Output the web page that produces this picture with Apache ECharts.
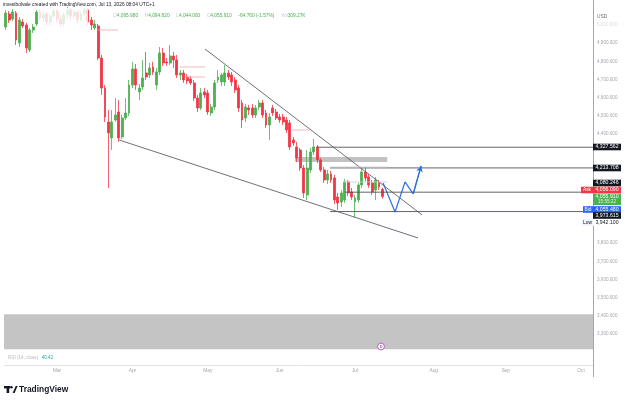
<!DOCTYPE html>
<html>
<head>
<meta charset="utf-8">
<script src="https://cdn.jsdelivr.net/npm/echarts@6/dist/echarts.min.js"></script>
<style>
  html, body { margin: 0; padding: 0; background: #fff; }
  #chart { width: 625px; height: 401px; }
</style>
</head>
<body>
<div id="chart"></div>
<script>
// daily candles, Feb 9 .. Jul 13 2026: [open, close, low, high]
const candles = [
  [4989, 5066, 4972.5, 5082.5], [5060.5, 5027.5, 5011, 5077], [5033, 5071.5, 5022, 5088],
  [5066, 4917.5, 4890, 5077], [4901, 5027.5, 4879, 5044], [5016.5, 4994.5, 4983.5, 5033],
  [5000, 4873.5, 4846, 5011], [4862.5, 4972.5, 4851.5, 4983.5], [4972.5, 4989, 4956, 5005.5],
  [5005.5, 5071.5, 4994.5, 5082.5], [5071.5, 5038.5, 5027.5, 5088], [5038.5, 5060.5, 5016.5, 5082.5],
  [5060.5, 5016.5, 5000, 5071.5], [5016.5, 5049.5, 4994.5, 5060.5], [5049.5, 5077, 5038.5, 5093.5],
  [5077, 5033, 5016.5, 5088], [5033, 5005.5, 4989, 5055], [5005.5, 5055, 4994.5, 5071.5],
  [5055, 5082.5, 5038.5, 5099], [5082.5, 5049.5, 5027.5, 5093.5], [5049.5, 5071.5, 5033, 5088],
  [5071.5, 5027.5, 5011, 5082.5], [5027.5, 5060.5, 5016.5, 5077], [5060.5, 5082.5, 5049.5, 5093.5],
  [5082.5, 5016.5, 5000, 5093.5], [5027.5, 5000, 4972.5, 5044], [4983.5, 5005.5, 4972.5, 5027.5],
  [4994.5, 4818.5, 4807.5, 5005.5], [4818.5, 4653.5, 4615, 4835], [4653.5, 4494, 4466.5, 4670],
  [4466.5, 4406, 4103.5, 4532.5], [4378.5, 4466.5, 4312.5, 4532.5], [4477.5, 4505, 4466.5, 4598],
  [4521.5, 4378.5, 4356.5, 4587.5], [4384, 4488.5, 4373, 4505], [4488.5, 4516, 4477.5, 4598],
  [4516, 4670, 4499.5, 4697.5], [4670, 4758, 4653.5, 4796.5], [4758, 4670, 4642.5, 4785.5],
  [4631.5, 4653.5, 4587.5, 4675.5], [4659, 4708.5, 4642.5, 4807.5], [4736, 4714, 4697.5, 4851.5],
  [4725, 4763.5, 4708.5, 4791], [4769, 4741.5, 4725, 4796.5], [4670, 4741.5, 4642.5, 4763.5],
  [4741.5, 4846, 4725, 4879], [4846, 4791, 4774.5, 4873.5], [4796.5, 4791, 4774.5, 4818.5],
  [4791, 4829.5, 4780, 4890], [4829.5, 4807.5, 4763.5, 4851.5], [4807.5, 4725, 4708.5, 4835],
  [4725, 4736, 4697.5, 4752.5], [4736, 4697.5, 4681, 4752.5], [4714, 4692, 4675.5, 4730.5],
  [4703, 4681, 4670, 4719.5], [4681, 4598, 4582, 4697.5], [4598, 4543.5, 4521.5, 4615],
  [4543.5, 4626, 4532.5, 4653.5], [4631.5, 4615, 4598, 4653.5], [4626, 4521.5, 4505, 4642.5],
  [4516, 4549, 4499.5, 4565.5], [4549, 4681, 4532.5, 4697.5], [4697.5, 4714, 4681, 4752.5],
  [4686.5, 4725, 4664.5, 4736], [4686.5, 4736, 4664.5, 4780], [4736, 4714, 4697.5, 4752.5],
  [4725, 4686.5, 4664.5, 4741.5], [4697.5, 4642.5, 4626, 4714], [4653.5, 4543.5, 4521.5, 4670],
  [4571, 4477.5, 4433.5, 4587.5], [4488.5, 4549, 4466.5, 4565.5], [4543.5, 4532.5, 4505, 4560],
  [4543.5, 4505, 4488.5, 4565.5], [4505, 4543.5, 4488.5, 4560], [4549, 4571, 4532.5, 4587.5],
  [4571, 4505, 4488.5, 4587.5], [4516, 4450, 4433.5, 4532.5], [4450, 4494, 4367.5, 4516],
  [4543.5, 4516, 4499.5, 4560], [4521.5, 4488.5, 4477.5, 4538], [4494, 4477.5, 4461, 4510.5],
  [4494, 4466.5, 4450, 4510.5], [4477.5, 4422.5, 4406, 4494], [4461, 4329, 4312.5, 4477.5],
  [4367.5, 4351, 4334.5, 4384], [4329, 4268.5, 4246.5, 4356.5], [4312.5, 4213.5, 4197, 4323.5],
  [4213.5, 4076, 4048.5, 4230], [4065, 4213.5, 4037.5, 4312.5], [4202.5, 4301.5, 4186, 4323.5],
  [4301.5, 4329, 4285, 4373], [4329, 4257.5, 4241, 4340], [4257.5, 4202.5, 4191.5, 4268.5],
  [4202.5, 4147.5, 4131, 4219], [4147.5, 4180.5, 4125.5, 4202.5], [4180.5, 4147.5, 4131, 4197],
  [4158.5, 4037.5, 4015.5, 4175], [4054, 4021, 3982.5, 4076], [4026.5, 4076, 3999, 4092.5],
  [4037.5, 4136.5, 4021, 4153], [4136.5, 4076, 4059.5, 4147.5], [4081.5, 4054, 4037.5, 4103.5],
  [4026.5, 4048.5, 3942.1, 4065], [4037.5, 4120, 4021, 4131], [4120, 4191.5, 4103.5, 4208],
  [4191.5, 4158.5, 4142, 4213.5], [4164, 4120, 4103.5, 4180.5], [4131, 4081.5, 4065, 4147.5],
  [4092.5, 4147.5, 4037.5, 4164], [4131, 4109, 4092.5, 4147.5], [4095.98, 4055.91, 4044.06, 4104.82]
];

const firstDay = '2026-02-09';
const barCount = 172;          // trading days shown incl. empty future space
const monthNames = ['Jan', 'Feb', 'Mar', 'Apr', 'May', 'Jun', 'Jul', 'Aug', 'Sep', 'Oct', 'Nov', 'Dec'];

// drawings, in [bar index, price]
const upperTrend = [[58.2, 4868], [121.6, 3955]];
const lowerTrend = [[33.1, 4367.5], [120.4, 3828.5]];
const forecastPath = [[110.2, 4131], [113.7, 3971.5], [116.6, 4136.5], [119.0, 4070.5], [121.3, 4224.5]];
const levelPrices = [4327.562, 4213.708, 4080.246, 3973.615];
const levelStarts = [90.9, 94.7, 99.1, 94.7];
const faintLevels = [[26.7, 32.8, 4972.5], [50.9, 58.2, 4769], [52.4, 58.2, 4714], [83.6, 88.9, 4422.5], [98.5, 111.4, 4136.5], [94.7, 111.4, 4219]];
const zoneBox = [84.5, 111.4, 4274, 4246.5];
const lowerBox = [-0.5, 171.5, 3408, 3216];

const yTicksHidden = [5100, 4300, 4200, 4100, 4000, 3900, 3200];

// weekday calendar
const dates = [];
{
  const d = new Date(firstDay + 'T00:00:00Z');
  while (dates.length < barCount) {
    const wd = d.getUTCDay();
    if (wd !== 0 && wd !== 6) dates.push(d.toISOString().slice(0, 10));
    d.setUTCDate(d.getUTCDate() + 1);
  }
}
const monthStart = dates.map((s, i) => i > 0 && s.slice(5, 7) !== dates[i - 1].slice(5, 7));

const FONT = 'Liberation Sans';
const UP = '#4caf50';
const DOWN = '#f23645';

const chart = echarts.init(document.getElementById('chart'), null, { renderer: 'canvas' });

const lineSeries = (data, color, width, extra) => Object.assign({
  type: 'line',
  xAxisIndex: 1,
  data: data,
  symbol: 'none',
  silent: true,
  animation: false,
  lineStyle: { color: color, width: width }
}, extra || {});

const series = [
  {
    type: 'candlestick',
    data: candles,
    barWidth: 2.4,
    animation: false,
    itemStyle: { color: UP, color0: DOWN, borderColor: UP, borderColor0: DOWN, borderWidth: 0.8 }
  },
  lineSeries([], '#000', 0, {
    markArea: {
      silent: true,
      data: [
        [{ coord: [lowerBox[0], lowerBox[2]], itemStyle: { color: '#c4c4c4' } }, { coord: [lowerBox[1], lowerBox[3]] }],
        [{ coord: [zoneBox[0], zoneBox[2]], itemStyle: { color: '#c2c2c2' } }, { coord: [zoneBox[1], zoneBox[3]] }]
      ]
    }
  }),
  lineSeries(upperTrend, '#5d606b', 0.9),
  lineSeries(lowerTrend, '#5d606b', 0.9),
  lineSeries(forecastPath, '#2f6fe4', 1.2, {
    markLine: {
      silent: true,
      symbol: ['none', 'arrow'],
      symbolSize: [5, 6],
      label: { show: false },
      lineStyle: { color: '#2f6fe4', width: 1.2, type: 'solid' },
      data: [[{ coord: forecastPath[3] }, { coord: forecastPath[4] }]]
    }
  })
];
levelPrices.forEach((p, i) => {
  series.push(lineSeries([[levelStarts[i], p], [171.5, p]], '#50535e', 0.9));
});
faintLevels.forEach(f => {
  series.push(lineSeries([[f[0], f[2]], [f[1], f[2]]], f[2] > 4200 && f[0] < 90 ? '#f4a3ab' : '#cfcfcf', 0.8));
});

// price tags on the right scale
const tag = (y, text, bg, fg, h) => [
  { type: 'rect', z: 100, shape: { x: 593, y: y - (h || 6.6) / 2, width: 28, height: h || 6.6 }, style: { fill: bg } },
  { type: 'text', z: 101, x: 607, y: y, style: { text: text, fill: fg, font: '5.2px ' + FONT, align: 'center', verticalAlign: 'middle' } }
];
const sideTag = (y, text, bg, fg, x0) => [
  { type: 'rect', z: 100, shape: { x: x0, y: y - 3.3, width: 593 - x0, height: 6.6 }, style: { fill: bg } },
  { type: 'text', z: 101, x: (x0 + 593) / 2, y: y, style: { text: text, fill: fg, font: '4.8px ' + FONT, align: 'center', verticalAlign: 'middle' } }
];

const graphic = [
  // legend backdrop over the early candles
  { type: 'rect', shape: { x: 38, y: 8, width: 50, height: 20 }, style: { fill: 'rgba(255,255,255,0.82)' }, z: 10 },
  { type: 'text', x: 3, y: 5, z: 11, style: { text: 'investbolvale created with TradingView.com, Jul 13, 2026 08:04 UTC+1', fill: '#131722', font: '4.8px ' + FONT, verticalAlign: 'middle' } },
  { type: 'text', x: 113, y: 16, z: 11, style: {
      text: '{g|O}{v|4,095.980}  {g|H}{v|4,094.820}  {g|L}{v|4,044.060}  {g|C}{v|4,055.910}  {v|-64.760 (-1.57%)}  {g|Vol}{v|309.27K}',
      verticalAlign: 'middle',
      rich: { g: { fill: '#c6c8ce', font: '4.8px ' + FONT }, v: { fill: UP, font: '4.8px ' + FONT } }
  } },
  { type: 'text', x: 597, y: 17, style: { text: 'USD', fill: '#6a6d78', font: '4.8px ' + FONT, verticalAlign: 'middle' } },
  // scale borders
  { type: 'line', z: 90, shape: { x1: 593.5, y1: 0, x2: 593.5, y2: 377 }, style: { stroke: '#a6a6a6', lineWidth: 1 } },
  { type: 'line', shape: { x1: 4, y1: 365.5, x2: 593, y2: 365.5 }, style: { stroke: '#e3e3e3', lineWidth: 1 } },
  // indicator caption
  { type: 'text', x: 8, y: 358, style: {
      text: '{g|RSI (14, close)} {v|40.42}', verticalAlign: 'middle',
      rich: { g: { fill: '#b8bac0', font: '4.6px ' + FONT }, v: { fill: '#26a69a', font: '4.6px ' + FONT } }
  } },
  // event marker
  { type: 'circle', z: 100, shape: { cx: 381, cy: 346.5, r: 3.4 }, style: { fill: '#fff', stroke: '#b04fc0', lineWidth: 0.9 } },
  { type: 'text', z: 101, x: 381, y: 346.6, style: { text: 'D', fill: '#b04fc0', font: 'bold 3.8px ' + FONT, align: 'center', verticalAlign: 'middle' } },
  // logo
  { type: 'rect', shape: { x: 4, y: 386, width: 6, height: 2.4 }, style: { fill: '#131722' } },
  { type: 'rect', shape: { x: 6.6, y: 386, width: 2.6, height: 7 }, style: { fill: '#131722' } },
  { type: 'circle', shape: { cx: 11.4, cy: 387.3, r: 1.3 }, style: { fill: '#131722' } },
  { type: 'polygon', shape: { points: [[12.6, 393], [15.8, 386], [17.6, 386], [14.6, 393]] }, style: { fill: '#131722' } },
  { type: 'text', x: 19, y: 389.5, style: { text: 'TradingView', fill: '#131722', font: '600 8.4px ' + FONT, verticalAlign: 'middle' } }
]
  .concat(tag(147, '4,327.562', '#131722', '#fff'))
  .concat(tag(168, '4,213.708', '#131722', '#fff'))
  .concat(tag(183, '4,080.246', '#131722', '#fff'))
  .concat(tag(190, '4,056.090', DOWN, '#fff'))
  .concat(sideTag(190, 'Ask', DOWN, '#fff', 581))
  .concat([
    { type: 'rect', z: 100, shape: { x: 593, y: 193.6, width: 28, height: 11.4 }, style: { fill: UP } },
    { type: 'text', z: 101, x: 607, y: 196.9, style: { text: '4,055.910', fill: '#fff', font: '5.2px ' + FONT, align: 'center', verticalAlign: 'middle' } },
    { type: 'text', z: 101, x: 607, y: 202.2, style: { text: '15:55:22', fill: '#e6f4e6', font: '4.6px ' + FONT, align: 'center', verticalAlign: 'middle' } }
  ])
  .concat(tag(209.5, '4,055.480', '#2962ff', '#fff'))
  .concat(sideTag(209.5, 'Bid', '#2962ff', '#fff', 583))
  .concat(tag(215.5, '3,973.615', '#131722', '#fff'))
  .concat(tag(222.4, '3,942.100', '#ffffff', '#131722'))
  .concat(sideTag(222.4, 'Low', '#f0f3fa', '#131722', 582));

chart.setOption({
  backgroundColor: '#fff',
  animation: false,
  textStyle: { fontFamily: FONT },
  grid: { left: 4, right: 32, top: 6.82, height: 345.35 },
  xAxis: [
    {
      type: 'category',
      data: dates,
      boundaryGap: true,
      axisLine: { show: false },
      axisTick: { show: false },
      splitLine: { show: false },
      axisLabel: {
        margin: 16,
        fontSize: 4.8,
        color: '#a3a6af',
        interval: (i) => monthStart[i],
        formatter: (v) => monthNames[parseInt(v.slice(5, 7), 10) - 1]
      }
    },
    { type: 'value', min: -0.5, max: barCount - 0.5, show: false }
  ],
  yAxis: {
    type: 'value',
    position: 'right',
    min: 3200,
    max: 5100,
    interval: 100,
    scale: true,
    axisLine: { show: false },
    axisTick: { show: false },
    splitLine: { show: false },
    axisLabel: {
      margin: 4,
      fontSize: 4.6,
      color: '#a3a6af',
      formatter: (v) => {
        if (yTicksHidden.indexOf(v) >= 0) return '';
        const s = v.toLocaleString('en-US', { minimumFractionDigits: 3, maximumFractionDigits: 3 });
        return v === 5000 ? '{f|' + s + '}' : s;
      },
      rich: { f: { color: '#dcdde1', fontSize: 4.6 } }
    }
  },
  series: series,
  graphic: graphic
});
</script>
</body>
</html>
